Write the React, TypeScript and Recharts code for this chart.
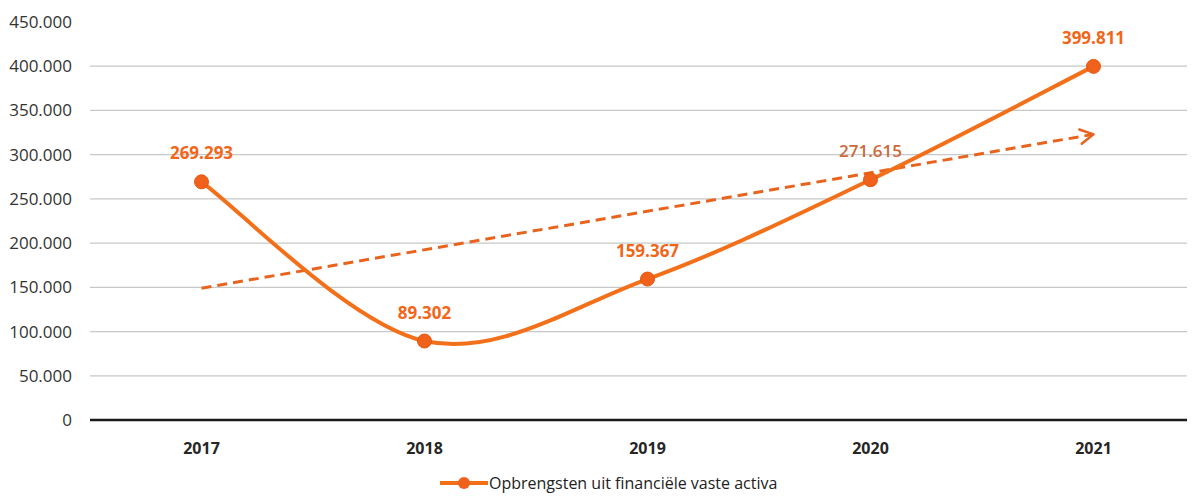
import React from 'react';
import { LineChart, Line, XAxis, YAxis, ReferenceLine, Legend, LabelList } from 'recharts';

const categories = ['2017', '2018', '2019', '2020', '2021'];
const revenue = [269293, 89302, 159367, 271615, 399811];
const trend: (number | null)[] = [149000, null, null, null, 323000];
const yTicks = [0, 50000, 100000, 150000, 200000, 250000, 300000, 350000, 400000, 450000];
const gridValues = [50000, 100000, 150000, 200000, 250000, 300000, 350000, 400000];
const boundaryTicks = [0, 1, 2, 3, 4, 5];
const seriesName = 'Opbrengsten uit financiële vaste activa';

const data = categories.map((year, i) => ({ year, revenue: revenue[i], trend: trend[i] }));

const ORANGE = '#F3701A';
const DOT = '#F0611B';
const LABEL = '#F2661A';
const MUTED_LABEL = '#CC6A3A';
const MUTED_INDEX = 3;
const FONT = '"Open Sans", sans-serif';

const fmt = (v: number) => String(Math.round(v)).replace(/\B(?=(\d{3})+(?!\d))/g, '.');

// Excel-like smoothing (Catmull-Rom via cubic Bezier, tension 1/6)
const excelCurve = (context: any) => {
  let pts: number[][] = [];
  return {
    areaStart() {},
    areaEnd() {},
    lineStart() { pts = []; },
    point(x: number, y: number) { pts.push([+x, +y]); },
    lineEnd() {
      if (!pts.length) return;
      context.moveTo(pts[0][0], pts[0][1]);
      for (let i = 0; i < pts.length - 1; i++) {
        const p0 = pts[i - 1] || pts[i];
        const p1 = pts[i];
        const p2 = pts[i + 1];
        const p3 = pts[i + 2] || p2;
        context.bezierCurveTo(
          p1[0] + (p2[0] - p0[0]) / 6, p1[1] + (p2[1] - p0[1]) / 6,
          p2[0] - (p3[0] - p1[0]) / 6, p2[1] - (p3[1] - p1[1]) / 6,
          p2[0], p2[1]
        );
      }
    },
  };
};

const TrendDot = (props: any) => {
  const { cx, cy, index, points } = props;
  if (index !== trend.length - 1 || cx == null || cy == null) return <g key={`td-${index}`} />;
  const start = (points || []).find((p: any) => p && p.value != null && p.y != null);
  const angle = start ? Math.atan2(cy - start.y, cx - start.x) : -0.17;
  const len = 15;
  const spread = 0.5;
  const a1 = angle + Math.PI - spread;
  const a2 = angle + Math.PI + spread;
  return (
    <g key={`td-${index}`}>
      <path
        d={`M${cx + len * Math.cos(a1)},${cy + len * Math.sin(a1)} L${cx},${cy} L${cx + len * Math.cos(a2)},${cy + len * Math.sin(a2)}`}
        fill="none"
        stroke="#E8641E"
        strokeWidth={2.5}
        strokeLinecap="round"
        strokeLinejoin="round"
      />
    </g>
  );
};

const ValueLabel = (props: any) => {
  const { x, y, value, index } = props;
  const muted = index === MUTED_INDEX;
  return (
    <text
      x={x}
      y={y - 29}
      textAnchor="middle"
      dominantBaseline="central"
      fill={muted ? MUTED_LABEL : LABEL}
      fontSize={17}
      fontWeight={muted ? 600 : 700}
      fontFamily={FONT}
    >
      {fmt(value)}
    </text>
  );
};

const CatTick = (props: any) => {
  const { x, y, payload } = props;
  return (
    <text x={x} y={y + 27} textAnchor="middle" dominantBaseline="central" fill="#262626" fontSize={16} fontWeight={700} fontFamily={FONT}>
      {payload.value}
    </text>
  );
};

const LegendContent = () => (
  <div style={{ height: 29, display: 'flex', alignItems: 'center', fontFamily: FONT }}>
    <svg width={48} height={14} style={{ display: 'block' }}>
      <line x1={0} y1={7} x2={48} y2={7} stroke={ORANGE} strokeWidth={4} />
      <circle cx={24} cy={7} r={6} fill={DOT} />
    </svg>
    <span style={{ fontSize: 16, color: '#222', marginLeft: 1, whiteSpace: 'nowrap' }}>{seriesName}</span>
  </div>
);

export default function App() {
  return (
    <div style={{ width: 1187, height: 489, overflow: 'hidden' }}>
      <LineChart width={1200} height={489} data={data} margin={{ top: 14, right: 3, left: 0, bottom: 0 }}>
        <XAxis
          xAxisId="b_cat"
          dataKey="year"
          padding={{ left: 111.5, right: 111.5 }}
          axisLine={false}
          tickLine={false}
          tickSize={0}
          tickMargin={0}
          height={47}
          interval={0}
          tick={<CatTick />}
        />
        <XAxis
          xAxisId="a_edge"
          type="number"
          domain={[0, 5]}
          ticks={boundaryTicks}
          tick={false}
          height={1}
          tickSize={6}
          axisLine={{ stroke: '#1a1a1a', strokeWidth: 2.5 }}
          tickLine={{ stroke: '#1a1a1a', strokeWidth: 2 }}
          allowDataOverflow
        />
        <YAxis
          width={82}
          domain={[0, 450000]}
          ticks={yTicks}
          tickFormatter={fmt}
          axisLine={false}
          tickLine={false}
          tickSize={0}
          tickMargin={18}
          tick={{ fill: '#333', fontSize: 17, fontFamily: FONT }}
        />
        {gridValues.map((v) => (
          <ReferenceLine key={v} xAxisId="b_cat" y={v} stroke="#c8c8c8" strokeWidth={1.2} />
        ))}
        <Line
          xAxisId="b_cat"
          dataKey="trend"
          type="linear"
          connectNulls
          stroke="#E8641E"
          strokeWidth={3}
          strokeDasharray="10 6"
          dot={<TrendDot />}
          activeDot={false}
          isAnimationActive={false}
          legendType="none"
        />
        <Line
          xAxisId="b_cat"
          dataKey="revenue"
          name={seriesName}
          type={excelCurve as any}
          stroke={ORANGE}
          strokeWidth={4}
          dot={{ r: 7, fill: DOT, stroke: '#E4580F', strokeWidth: 1 }}
          activeDot={false}
          isAnimationActive={false}
        >
          <LabelList dataKey="revenue" content={<ValueLabel />} />
        </Line>
        <Legend verticalAlign="bottom" wrapperStyle={{ left: 432, width: 420 }} content={<LegendContent />} />
      </LineChart>
    </div>
  );
}
